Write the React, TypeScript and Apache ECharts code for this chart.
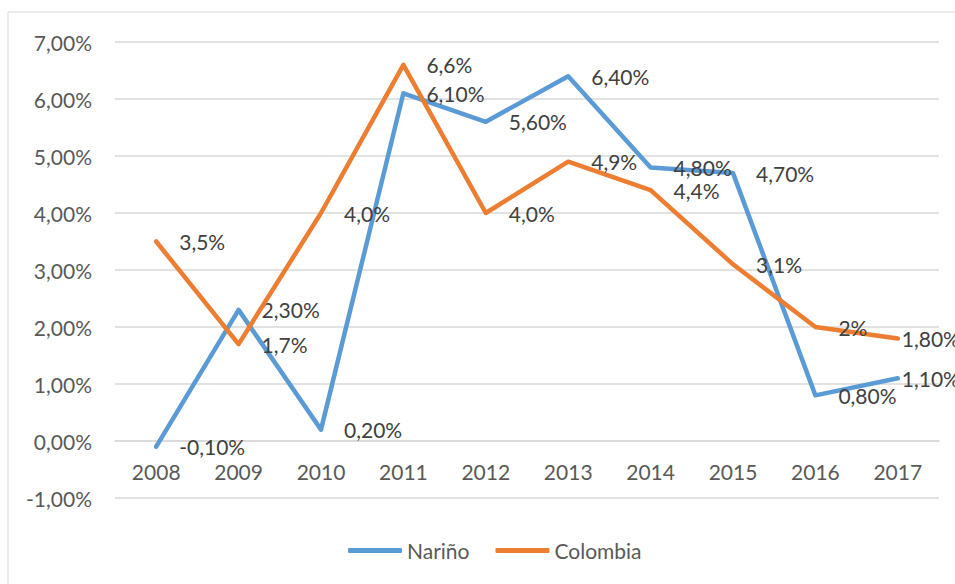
import React, { useEffect, useRef } from "react";
import * as echarts from "echarts";

const years = ["2008", "2009", "2010", "2011", "2012", "2013", "2014", "2015", "2016", "2017"];
const narinoValues = [-0.1, 2.3, 0.2, 6.1, 5.6, 6.4, 4.8, 4.7, 0.8, 1.1];
const colombiaValues = [3.5, 1.7, 4.0, 6.6, 4.0, 4.9, 4.4, 3.1, 2.0, 1.8];
const narinoLabels = ["-0,10%", "2,30%", "0,20%", "6,10%", "5,60%", "6,40%", "4,80%", "4,70%", "0,80%", "1,10%"];
const colombiaLabels = ["3,5%", "1,7%", "4,0%", "6,6%", "4,0%", "4,9%", "4,4%", "3,1%", "2%", "1,80%"];
const yTicks = { min: -1, max: 7, interval: 1 };

const FONT = "Lato, 'Liberation Sans', sans-serif";
const BLUE = "#5B9BD5";
const ORANGE = "#ED7D31";

const GRID_TOP = 42;
const GRID_BOTTOM = 86;
const CHART_H = 584;

function buildData(values: number[], labels: string[]) {
  return values.map((v, i) => ({
    value: v,
    label: {
      formatter: labels[i],
      distance: i === values.length - 1 ? 3 : 22,
    },
  }));
}

export default function App() {
  const ref = useRef<HTMLDivElement>(null);
  useEffect(() => {
    if (!ref.current) return;
    const chart = echarts.init(ref.current, undefined, { renderer: "svg" });
    const labelStyle = {
      show: true,
      position: "right" as const,
      color: "#404040",
      fontSize: 21,
      fontFamily: FONT,
    };
    // place the category axis on the zero line of the value axis
    const gridH = CHART_H - GRID_TOP - GRID_BOTTOM;
    const zeroOffset = -((0 - yTicks.min) / (yTicks.max - yTicks.min)) * gridH;
    chart.setOption({
      animation: false,
      backgroundColor: "#ffffff",
      graphic: [
        {
          type: "rect",
          shape: { x: 8, y: 12, width: 1000, height: 700 },
          style: { fill: "none", stroke: "#D9D9D9", lineWidth: 1 },
          silent: true,
          z: -10,
        },
      ],
      grid: { left: 115, right: 16, top: GRID_TOP, bottom: GRID_BOTTOM, containLabel: false },
      legend: {
        left: 343,
        top: 535,
        itemWidth: 54,
        itemHeight: 5,
        itemGap: 26,
        icon: "roundRect",
        textStyle: { color: "#595959", fontSize: 21, fontFamily: FONT },
        data: ["Nariño", "Colombia"],
      },
      xAxis: {
        type: "category",
        data: years,
        boundaryGap: true,
        offset: zeroOffset,
        axisLine: { show: true, onZero: false, lineStyle: { color: "#D9D9D9", width: 1.5 } },
        axisTick: { show: false },
        axisLabel: { color: "#595959", fontSize: 21, fontFamily: FONT, margin: 20 },
        splitLine: { show: false },
      },
      yAxis: {
        type: "value",
        min: yTicks.min,
        max: yTicks.max,
        interval: yTicks.interval,
        axisLine: { show: false },
        axisTick: { show: false },
        axisLabel: {
          color: "#595959",
          fontSize: 21,
          fontFamily: FONT,
          margin: 23,
          formatter: (v: number) => v.toFixed(2).replace(".", ",") + "%",
        },
        splitLine: { show: true, lineStyle: { color: "#D9D9D9", width: 1.5 } },
      },
      series: [
        {
          name: "Nariño",
          type: "line",
          data: buildData(narinoValues, narinoLabels),
          symbol: "circle",
          symbolSize: 2,
          showSymbol: true,
          itemStyle: { color: BLUE },
          lineStyle: { color: BLUE, width: 4.5, join: "round", cap: "round" },
          label: labelStyle,
          z: 2,
        },
        {
          name: "Colombia",
          type: "line",
          data: buildData(colombiaValues, colombiaLabels),
          symbol: "circle",
          symbolSize: 2,
          showSymbol: true,
          itemStyle: { color: ORANGE },
          lineStyle: { color: ORANGE, width: 4.5, join: "round", cap: "round" },
          label: labelStyle,
          z: 3,
        },
      ],
    });
    return () => chart.dispose();
  }, []);
  return (
    <div
      ref={ref}
      style={{ position: "fixed", left: 0, top: 0, width: 955, height: 584, background: "#fff" }}
    />
  );
}
